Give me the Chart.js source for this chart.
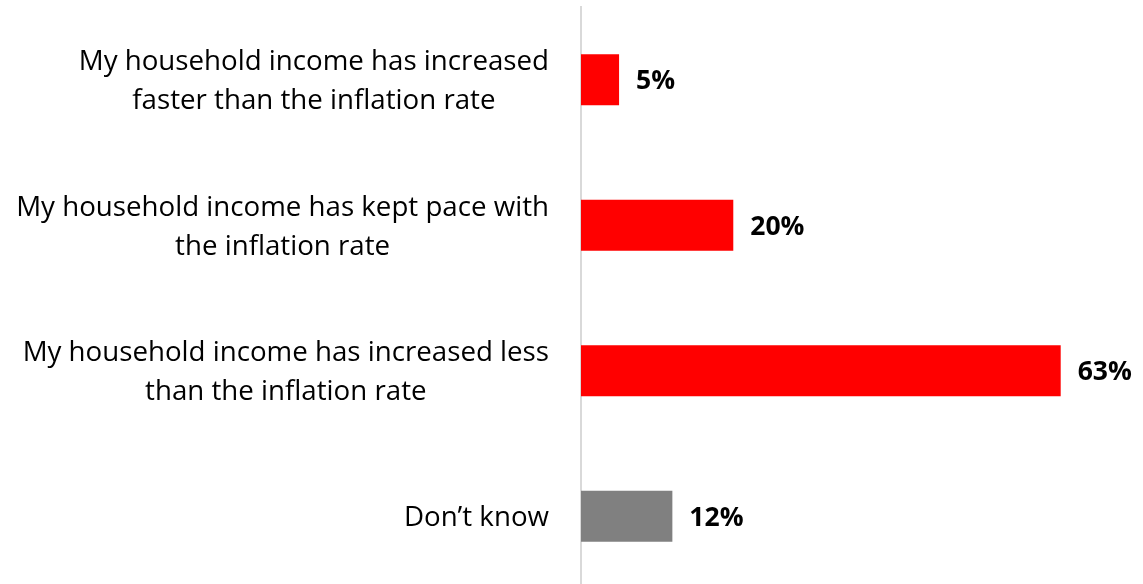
<!DOCTYPE html>
<html>
<head>
<meta charset="utf-8">
<script src="https://cdn.jsdelivr.net/npm/chart.js@4.4.1/dist/chart.umd.min.js"></script>
<style>
  html, body { margin: 0; padding: 0; background: #ffffff; overflow: hidden; }
  #wrap { position: relative; width: 1143px; height: 590px; }
</style>
</head>
<body>
<div id="wrap"><canvas id="chart"></canvas></div>
<script>
// Survey answers about household income versus inflation
const categories = [
  ['My household income has increased', 'faster than the inflation rate'],
  ['My household income has kept pace with', 'the inflation rate'],
  ['My household income has increased less', 'than the inflation rate'],
  ['Don\u2019t know']
];
const shares = [5, 20, 63, 12];
const barColors = ['#ff0000', '#ff0000', '#ff0000', '#808080'];

const FONT = "'Open Sans', sans-serif";
const CAP = 0.714; // cap height of the face, in em

// Category text: lines centred within each block, blocks right-aligned to the axis
const categoryLabels = {
  id: 'categoryLabels',
  afterDraw(chart) {
    const ctx = chart.ctx;
    const y = chart.scales.y;
    const right = chart.chartArea.left - 32;
    const size = 27.7;
    const lineH = 39;
    ctx.save();
    ctx.font = size + 'px ' + FONT;
    ctx.fillStyle = '#000000';
    ctx.textAlign = 'center';
    ctx.textBaseline = 'alphabetic';
    categories.forEach((lines, i) => {
      const cy = y.getPixelForValue(i);
      const w = Math.max(...lines.map(l => ctx.measureText(l).width));
      const cx = right - w / 2;
      lines.forEach((l, j) => {
        const by = cy + (j - (lines.length - 1) / 2) * lineH + CAP * size / 2;
        ctx.fillText(l, cx, by);
      });
    });
    ctx.restore();
  }
};

// Percentage labels just past the end of each bar
const valueLabels = {
  id: 'valueLabels',
  afterDatasetsDraw(chart) {
    const ctx = chart.ctx;
    const meta = chart.getDatasetMeta(0);
    const size = 26.5;
    ctx.save();
    ctx.font = 'bold ' + size + 'px ' + FONT;
    ctx.fillStyle = '#000000';
    ctx.textAlign = 'left';
    ctx.textBaseline = 'alphabetic';
    meta.data.forEach((bar, i) => {
      ctx.fillText(shares[i] + '%', bar.x + 17, bar.y + CAP * size / 2);
    });
    ctx.restore();
  }
};

new Chart(document.getElementById('chart'), {
  type: 'bar',
  data: {
    labels: categories,
    datasets: [{
      data: shares,
      backgroundColor: barColors,
      borderWidth: 0,
      categoryPercentage: 1,
      barPercentage: 0.35
    }]
  },
  options: {
    indexAxis: 'y',
    responsive: true,
    maintainAspectRatio: false,
    animation: false,
    layout: { padding: { top: 7, right: 29, bottom: 1, left: 0 } },
    plugins: { legend: { display: false }, tooltip: { enabled: false } },
    scales: {
      x: { display: false, min: 0, max: 70 },
      y: {
        grid: { display: false },
        border: { display: true, color: '#d9d9d9', width: 2 },
        ticks: { display: false },
        afterFit(scale) { scale.width = 581; }
      }
    }
  },
  plugins: [categoryLabels, valueLabels]
});
</script>
</body>
</html>
